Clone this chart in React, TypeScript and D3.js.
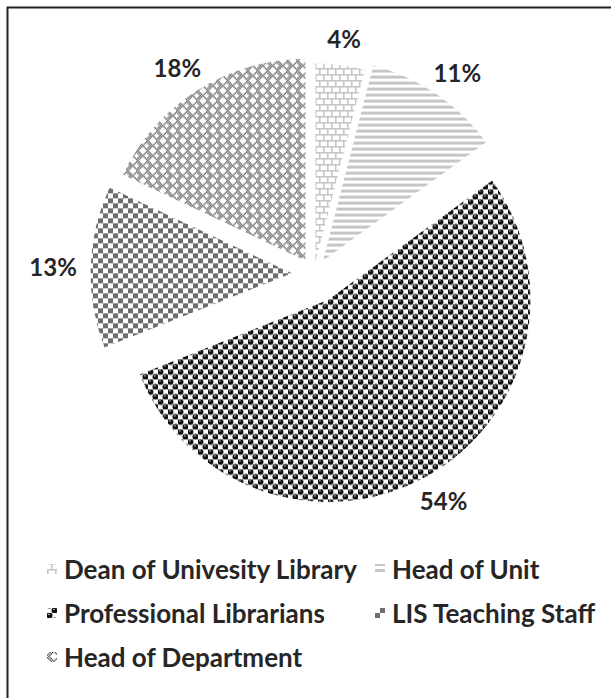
import React from "react";
import * as d3 from "d3";

const categories = [
  "Dean of Univesity Library",
  "Head of Unit",
  "Professional Librarians",
  "LIS Teaching Staff",
  "Head of Department",
];
const values = [4, 11, 54, 13, 18];
const valueLabels = ["4%", "11%", "54%", "13%", "18%"];

const W = 611;
const H = 698;
const CX = 314;
const CY = 274;
const R = 203;
const explode = [8, 15, 29, 21, 15];
const patternIds = ["pBrick", "pHoriz", "pSphere", "pCheck", "pWeave"];
const FONT = "Lato, 'Open Sans', sans-serif";
const LABEL_SIZE = 24;
const LEGEND_SIZE = 26;

const weaveRows = [
  "#.#.....",
  ".#.#...#",
  "..#.#.#.",
  "...#.#..",
  "..#.#.#.",
  ".#.#...#",
  "#.#.....",
  ".#......",
];

function Patterns() {
  const cells: JSX.Element[] = [];
  weaveRows.forEach((row, y) =>
    row.split("").forEach((c, x) => {
      if (c === "#")
        cells.push(
          <rect key={`${x}-${y}`} x={x * 1.25} y={y * 1.25} width={1.25} height={1.25} fill="#333" />
        );
    })
  );
  return (
    <defs>
      <pattern id="pBrick" patternUnits="userSpaceOnUse" width={8} height={12}>
        <rect width={8} height={12} fill="#fff" />
        <path d="M0,0.75H8M0,6.75H8M0.75,0V6M4.75,6V12" stroke="#c3c3c3" strokeWidth={1.5} fill="none" />
      </pattern>
      <pattern id="pHoriz" patternUnits="userSpaceOnUse" width={6} height={6}>
        <rect width={6} height={6} fill="#fff" />
        <rect y={0} width={6} height={3} fill="#c6c6c6" />
      </pattern>
      <pattern id="pSphere" patternUnits="userSpaceOnUse" width={10} height={10}>
        <rect width={10} height={10} fill="#fff" />
        {[[2.5, 2.5], [7.5, 7.5]].map(([x, y], i) => (
          <g key={i}>
            <circle cx={x} cy={y} r={3} fill="#111" />
            <rect x={x - 1.5} y={y - 1.6} width={1.8} height={0.8} fill="#fff" />
          </g>
        ))}
      </pattern>
      <pattern id="pCheck" patternUnits="userSpaceOnUse" width={10} height={10}>
        <rect width={10} height={10} fill="#fff" />
        <rect x={0} y={0} width={5} height={5} fill="#6e6e6e" />
        <rect x={5} y={5} width={5} height={5} fill="#6e6e6e" />
      </pattern>
      <pattern id="pWeave" patternUnits="userSpaceOnUse" width={10} height={10}>
        <rect width={10} height={10} fill="#fff" />
        {cells}
      </pattern>
    </defs>
  );
}

export default function App() {
  const pie = d3.pie<number>().sort(null).value((d) => d).startAngle(0).endAngle(2 * Math.PI);
  const arcs = pie(values);
  const arcGen = d3.arc<d3.PieArcDatum<number>>().innerRadius(0).outerRadius(R);

  const legendRows = [
    [0, 1],
    [2, 3],
    [4],
  ];
  const legendY = [569, 613, 657];
  const legendX = [47, 375];

  return (
    <svg width={W} height={H} style={{ position: "absolute", left: 0, top: 0, background: "#fff" }}>
      <Patterns />
      <rect x={0} y={0} width={W} height={H} fill="#fff" />
      <path d={`M7.5,${H}V7.5H${W}`} stroke="#222" strokeWidth={2} fill="none" />
      {arcs.map((a, i) => {
        const mid = (a.startAngle + a.endAngle) / 2;
        const dx = Math.sin(mid) * explode[i];
        const dy = -Math.cos(mid) * explode[i];
        return (
          <path
            key={i}
            d={arcGen(a) || ""}
            transform={`translate(${CX + dx},${CY + dy})`}
            fill={`url(#${patternIds[i]})`}
            stroke="#fff"
            strokeWidth={1}
          />
        );
      })}
      {arcs.map((a, i) => {
        const mid = (a.startAngle + a.endAngle) / 2;
        const s = Math.sin(mid);
        const c = -Math.cos(mid);
        const rr = R + explode[i] + 14;
        const hw = valueLabels[i].length * LABEL_SIZE * 0.32;
        const hh = LABEL_SIZE * 0.5;
        const x = CX + s * rr + s * hw;
        const y = CY + c * rr + c * hh;
        return (
          <text
            key={i}
            x={x}
            y={y}
            textAnchor="middle"
            dominantBaseline="central"
            fontFamily={FONT}
            fontWeight={700}
            fontSize={LABEL_SIZE}
            fill="#262626"
          >
            {valueLabels[i]}
          </text>
        );
      })}
      {legendRows.map((row, ri) =>
        row.map((ci, k) => (
          <g key={ci} transform={`translate(${legendX[k]},${legendY[ri]})`}>
            <rect x={0} y={-5} width={10} height={10} fill={`url(#${patternIds[ci]})`} />
            <text
              x={17}
              y={0}
              dominantBaseline="central"
              fontFamily={FONT}
              fontWeight={700}
              fontSize={LEGEND_SIZE}
              fill="#262626"
            >
              {categories[ci]}
            </text>
          </g>
        ))
      )}
    </svg>
  );
}
